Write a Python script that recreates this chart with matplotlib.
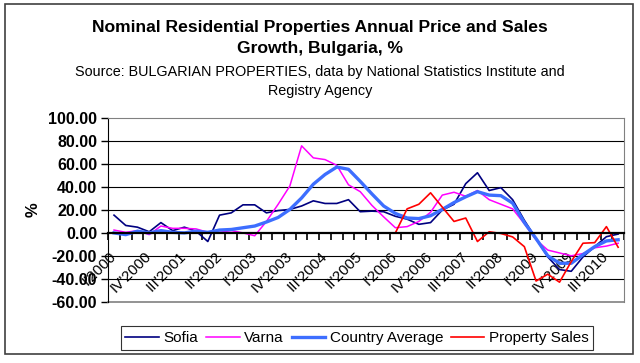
import numpy as np
import matplotlib.pyplot as plt
from matplotlib.patches import Rectangle

# quarterly growth, I'2000 .. IV'2010 (44 quarters)
sofia = [15.5, 6.5, 5, 1, 9, 2, 5, 1.5, -7.5, 15.5,
         17.5, 24.5, 24.5, 17.5, 19.5, 20.5, 23.5, 28, 25.7, 25.7,
         29, 18.5, 19, 18.5, 14.5, 12, 7.5, 9, 20, 25,
         43, 52.5, 37, 39.5, 29, 11, -5, -21, -32, -33.5,
         -21, -12, -3.3, -1]
varna = [2.5, 0.5, 2, -1.5, 6, 4, 4, 3.5, 0.5, 0.5,
         2, 0, -2.5, 10, 25, 41, 76, 65.5, 64, 59,
         42, 36, 24, 14, 4.5, 5.5, 10, 18, 33, 35.5,
         32, 37, 29, 25, 21, 8, -6, -15, -17.5, -20,
         -18, -13, -11.5, -9]
country_avg = [0, -1.5, 1.5, 0, 2, 0.5, 0, 1.5, 0.5, 2.5,
               3, 4.5, 6, 9.5, 13.5, 20.5, 30.5, 42.5, 51, 57.5,
               55.5, 45, 34, 23.5, 17, 13, 12.5, 15, 20.5, 26.5,
               31.5, 36, 33, 32.5, 26, 9, -5, -20, -26.5, -26.5,
               -19, -12, -7, -6]
# property sales only from I'2006
property_sales = [np.nan] * 24 + [0, 21, 25, 35, 22.5, 10, 13, -7.5, 1, -0.5,
                                  -3.5, -12, -42, -36, -43, -25, -9, -8.5, 5.5, -12.5]

tick_labels = ["I'2000", "IV'2000", "III'2001", "II'2002", "I'2003", "IV'2003",
               "III'2004", "II'2005", "I'2006", "IV'2006", "III'2007", "II'2008",
               "I'2009", "IV'2009", "III'2010"]

plt.rcParams['font.family'] = ['Liberation Sans', 'DejaVu Sans']

fig = plt.figure(figsize=(6.4, 3.63), dpi=100)
ax = fig.add_axes([0.169, 0.169, 0.806, 0.505])

x = np.arange(len(sofia))
ax.plot(x, sofia, color='#000080', lw=1.2, label='Sofia')
ax.plot(x, varna, color='#FF00FF', lw=1.1, label='Varna')
ax.plot(x, country_avg, color='#3D6EFF', lw=2.4, label='Country Average')
ax.plot(x, property_sales, color='#FF0000', lw=1.2, label='Property Sales')

ax.set_xlim(-0.5, len(sofia) - 0.5)
ax.set_ylim(-60, 100)

# gridlines
for g in [80, 60, 40, 20, -20, -40]:
    ax.axhline(g, color='black', lw=0.8, zorder=0)

for s in ['top', 'right']:
    ax.spines[s].set_color('#808080')
ax.axhline(-60, color='#808080', lw=1.2, clip_on=False)
ax.spines['left'].set_color('black')
ax.spines['bottom'].set_position(('data', 0))
ax.spines['bottom'].set_linewidth(1.6)
ax.spines['bottom'].set_color('black')

ax.set_yticks(np.arange(-60, 101, 20))
ax.set_yticklabels([f"{v:.2f}" for v in np.arange(-60, 101, 20)],
                   fontsize=11.5, fontweight='bold')
ax.tick_params(axis='y', direction='out', length=5, width=1, pad=3)

ax.set_xticks(x[::3])
ax.set_xticklabels(tick_labels, rotation=45, ha='right', va='center',
                   rotation_mode='anchor', fontsize=11)
ax.set_xticks(np.arange(-0.5, len(sofia), 1), minor=True)
ax.tick_params(axis='x', which='major', length=0, pad=15)
ax.tick_params(axis='x', which='minor', direction='out', length=5, width=1.2)

ax.set_ylabel('%', fontsize=12, fontweight='bold', labelpad=5)

fig.text(0.5, 0.924, "Nominal Residential Properties Annual Price and Sales",
         ha='center', va='center', fontsize=12.6, fontweight='bold')
fig.text(0.5, 0.866, "Growth, Bulgaria, %",
         ha='center', va='center', fontsize=12.6, fontweight='bold')
fig.text(0.5, 0.802, "Source: BULGARIAN PROPERTIES, data by National Statistics Institute and",
         ha='center', va='center', fontsize=10.4)
fig.text(0.5, 0.749, "Registry Agency", ha='center', va='center', fontsize=10.4)

leg = fig.legend(loc='center', bbox_to_anchor=(0.558, 0.069), ncol=4,
                 fontsize=11, frameon=True, fancybox=False, handlelength=2.2,
                 handletextpad=0.3, columnspacing=0.5, borderpad=0.3)
leg.get_frame().set_edgecolor('black')
leg.get_frame().set_linewidth(0.8)

fig.patches.append(Rectangle((5 / 640, 1 - 354 / 363), 628 / 640, 350 / 363,
                             transform=fig.transFigure, fill=False,
                             edgecolor='#404040', lw=1.2))

plt.savefig('out.png', dpi=100)
